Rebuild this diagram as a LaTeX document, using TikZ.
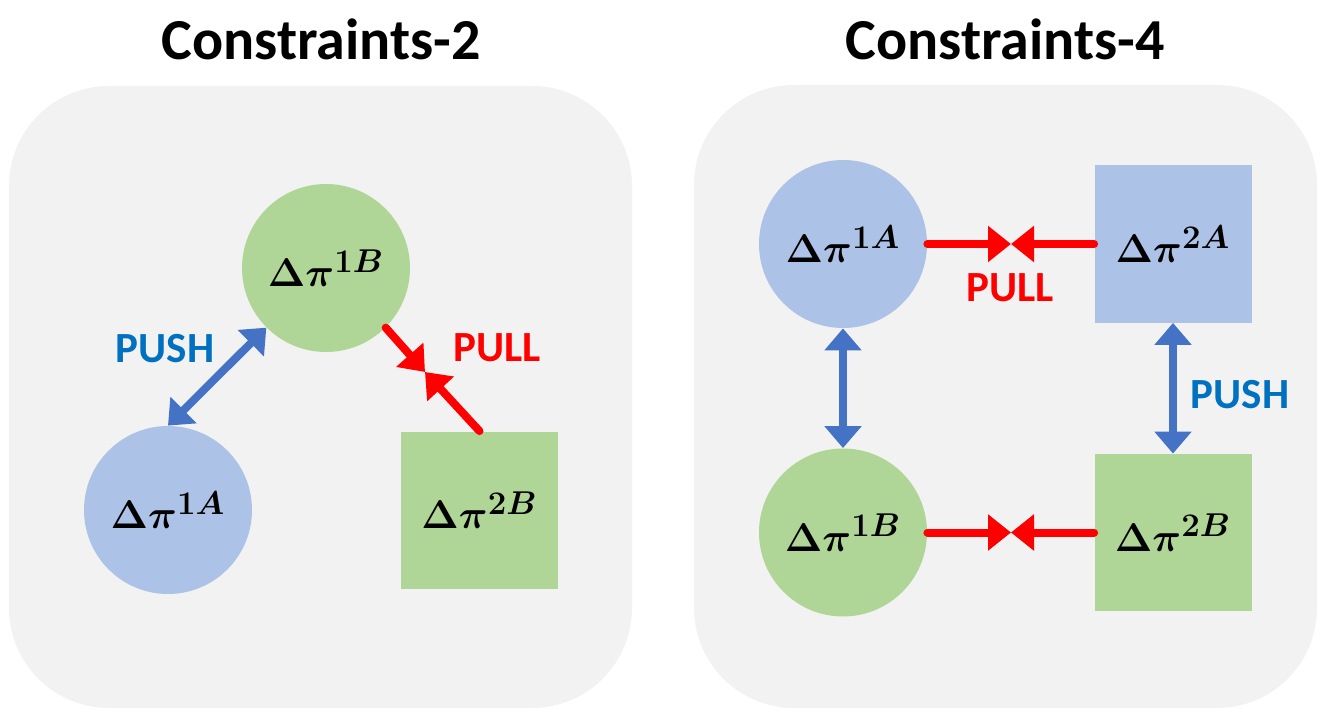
\documentclass[tikz,border=0pt]{standalone}
\usepackage{fix-cm}
\usepackage{amsmath}
\usepackage[no-math]{fontspec}
\setmainfont{Carlito}
\usetikzlibrary{arrows.meta}
\DeclareMathSizes{20}{20}{16.5}{12}
\definecolor{panelgray}{HTML}{F2F2F2}
\definecolor{lightblue}{HTML}{ACC2E6}
\definecolor{lightgreen}{HTML}{AFD697}
\definecolor{arrowblue}{HTML}{4472C4}
\definecolor{pushblue}{HTML}{0070C0}
\newcommand{\dpilab}[2]{$\mathbf{\Delta}\boldsymbol{\pi}^{\mathbf{#1}\boldsymbol{#2}}$}

\begin{document}
\begin{tikzpicture}[x=0.5pt, y=-0.5pt,
    panel/.style={fill=panelgray, rounded corners=50pt},
    ball/.style={circle, minimum size=84pt, inner sep=0pt, font=\fontsize{20}{24}\selectfont},
    box/.style={rectangle, minimum size=78.5pt, inner sep=0pt, font=\fontsize{20}{24}\selectfont},
    push/.style={arrowblue, line width=4pt, {Triangle[width=18pt,length=11pt]}-{Triangle[width=18pt,length=11pt]}},
    pull/.style={red, line width=4pt, line cap=round, -{Triangle[width=17.5pt,length=11.5pt]}},
    title/.style={anchor=base, font=\bfseries\fontsize{29}{34}\selectfont},
    tag/.style={font=\bfseries\fontsize{21.5}{25}\selectfont}]
    \useasboundingbox (0,0) rectangle (1329,722);
    \fill[panel] (9,86) rectangle (632,708);
    \fill[panel] (694,85) rectangle (1317,708);
    \node[title] (t2) at (321,60) {Constraints-2};
    \node[title] (t4) at (1005,60) {Constraints-4};

    % Constraints-2
    \node[ball, fill=lightgreen] (l1b) at (326,268) {\dpilab{1}{B}};
    \node[ball, fill=lightblue] (l1a) at (168,510) {\dpilab{1}{A}};
    \node[box, fill=lightgreen] (l2b) at (479.5,510) {\dpilab{2}{B}};
    \coordinate (lmeet) at (425,372);
    \draw[push] (l1a.north) -- (l1b.south west);
    \draw[pull] (l1b.south east) -- (lmeet);
    \draw[pull] (l2b.north) -- (lmeet);
    \node[tag, pushblue] (lpush) at (165,349) {PUSH};
    \node[tag, red] (lpull) at (497,348) {PULL};

    % Constraints-4
    \node[ball, fill=lightblue] (r1a) at (843,244) {\dpilab{1}{A}};
    \node[box, fill=lightblue] (r2a) at (1173,244) {\dpilab{2}{A}};
    \node[ball, fill=lightgreen] (r1b) at (843,532.5) {\dpilab{1}{B}};
    \node[box, fill=lightgreen] (r2b) at (1173,532.5) {\dpilab{2}{B}};
    \coordinate (rmeet1) at (1011,244);
    \coordinate (rmeet2) at (1011,532.5);
    \draw[pull] (r1a.east) -- (rmeet1);
    \draw[pull] (r2a.west) -- (rmeet1);
    \draw[pull] (r1b.east) -- (rmeet2);
    \draw[pull] (r2b.west) -- (rmeet2);
    \draw[push] (r1a.south) -- (r1b.north);
    \draw[push] (r2a.south) -- (r2b.north);
    \node[tag, red] (rpull) at (1010,288) {PULL};
    \node[tag, pushblue] (rpush) at (1240,395) {PUSH};
\end{tikzpicture}
\end{document}
